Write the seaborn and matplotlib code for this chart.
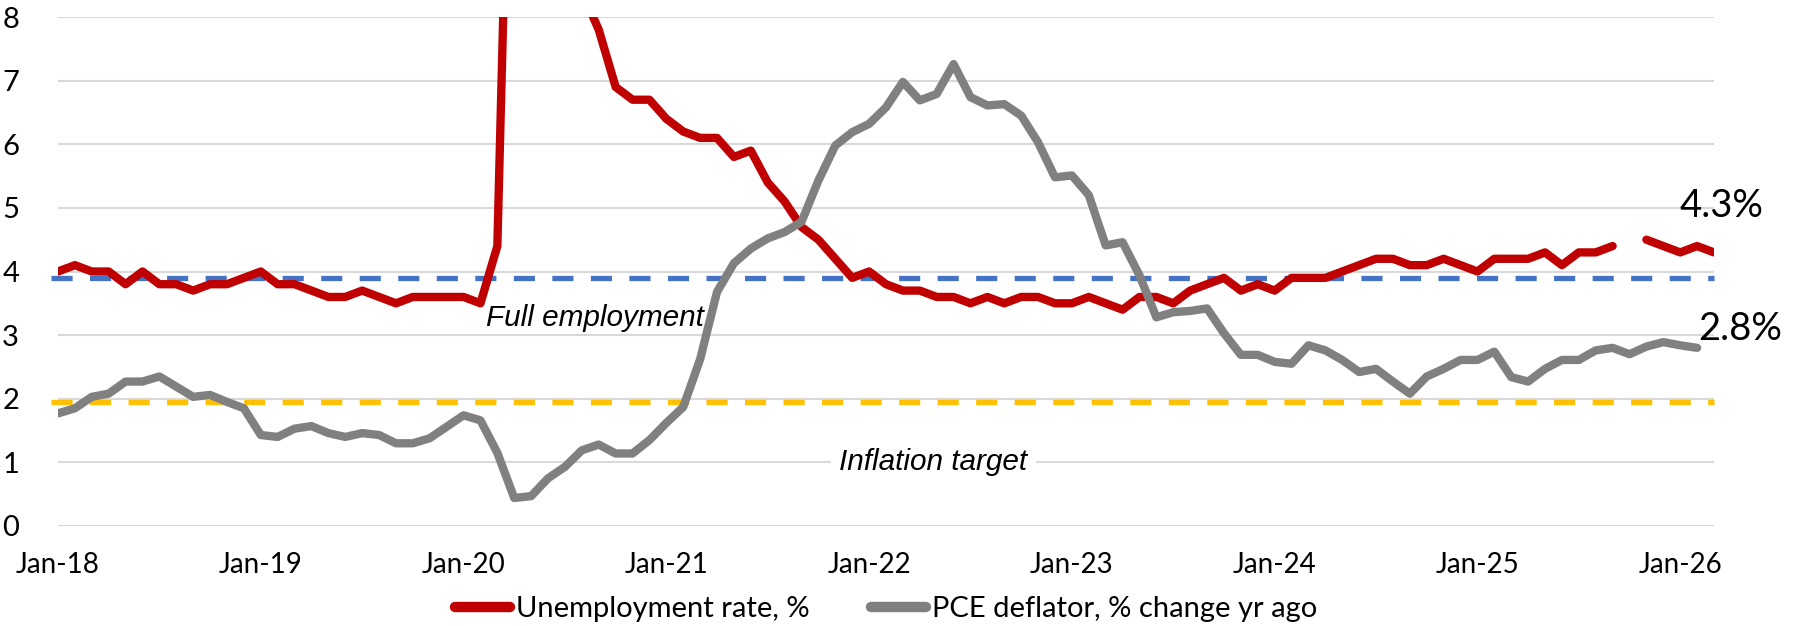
import numpy as np
import pandas as pd
import matplotlib
matplotlib.use("Agg")
import matplotlib.pyplot as plt
from matplotlib.lines import Line2D
import seaborn as sns

# ---------------- data ----------------
tick_labels = ["Jan-18", "Jan-19", "Jan-20", "Jan-21", "Jan-22",
               "Jan-23", "Jan-24", "Jan-25", "Jan-26"]

unemployment = [
    4.0, 4.1, 4.0, 4.0, 3.8, 4.0, 3.8, 3.8, 3.7, 3.8, 3.8, 3.9,   # 2018
    4.0, 3.8, 3.8, 3.7, 3.6, 3.6, 3.7, 3.6, 3.5, 3.6, 3.6, 3.6,   # 2019
    3.6, 3.5, 4.4, 14.8, 13.2, 11.0, 10.2, 8.4, 7.8, 6.9, 6.7, 6.7,  # 2020
    6.4, 6.2, 6.1, 6.1, 5.8, 5.9, 5.4, 5.1, 4.7, 4.5, 4.2, 3.9,   # 2021
    4.0, 3.8, 3.7, 3.7, 3.6, 3.6, 3.5, 3.6, 3.5, 3.6, 3.6, 3.5,   # 2022
    3.5, 3.6, 3.5, 3.4, 3.6, 3.6, 3.5, 3.7, 3.8, 3.9, 3.7, 3.8,   # 2023
    3.7, 3.9, 3.9, 3.9, 4.0, 4.1, 4.2, 4.2, 4.1, 4.1, 4.2, 4.1,   # 2024
    4.0, 4.2, 4.2, 4.2, 4.3, 4.1, 4.3, 4.3, 4.4, np.nan, 4.5, 4.4,  # 2025
    4.3, 4.4, 4.3,                                                # 2026
]

pce_deflator = [
    1.77, 1.85, 2.03, 2.08, 2.27, 2.27, 2.35, 2.19, 2.03, 2.06, 1.95, 1.85,  # 2018
    1.43, 1.40, 1.53, 1.57, 1.46, 1.40, 1.46, 1.43, 1.30, 1.30, 1.38, 1.56,  # 2019
    1.74, 1.66, 1.15, 0.44, 0.47, 0.75, 0.93, 1.19, 1.28, 1.14, 1.14, 1.35,  # 2020
    1.62, 1.87, 2.62, 3.68, 4.13, 4.36, 4.52, 4.62, 4.78, 5.43, 5.98, 6.19,  # 2021
    6.32, 6.58, 6.98, 6.69, 6.79, 7.26, 6.74, 6.61, 6.63, 6.45, 6.03, 5.48,  # 2022
    5.51, 5.20, 4.41, 4.46, 3.94, 3.28, 3.36, 3.38, 3.42, 3.03, 2.69, 2.69,  # 2023
    2.58, 2.55, 2.84, 2.76, 2.61, 2.42, 2.47, 2.27, 2.08, 2.35, 2.47, 2.61,  # 2024
    2.61, 2.74, 2.34, 2.27, 2.47, 2.61, 2.61, 2.76, 2.80, 2.70, 2.82, 2.89,  # 2025
    2.84, 2.80,                                                              # 2026
]

full_employment = 3.9
inflation_target = 1.95

series_names = ["Unemployment rate, %", "PCE deflator, % change yr ago"]
last_labels = ["4.3%", "2.8%"]

# ---------------- build long data ----------------
rows = []
for name, vals in zip(series_names, [unemployment, pce_deflator]):
    seg = 0
    for i, v in enumerate(vals):
        if v is None or (isinstance(v, float) and np.isnan(v)):
            seg += 1
            continue
        rows.append({"idx": i, "value": v, "series": name, "seg": f"{name}-{seg}"})
df = pd.DataFrame(rows)

sns.set_theme(style="white")
plt.rcParams["font.family"] = ["Lato", "DejaVu Sans"]
plt.rcParams["text.color"] = "black"

RED = "#C00000"
GRAY = "#808080"
BLUE = "#4472C4"
YELLOW = "#FFC000"

fig = plt.figure(figsize=(17.96, 6.26), dpi=100)
ax = fig.add_axes([58 / 1796, 1 - 526 / 626, (1714 - 58) / 1796, (526 - 17) / 626])

n_total = len(unemployment)
xlim = (0, n_total - 1)

# grid
for yv in range(0, 9):
    ax.axhline(yv, color="#D9D9D9", lw=1.5, zorder=0)

# reference dashed lines
ax.plot([-0.4, n_total - 1], [full_employment] * 2, color=BLUE, lw=3.8,
        linestyle=(0, (4.0, 3.3)), dash_capstyle="butt", zorder=2, clip_on=False)
ax.plot([-0.4, n_total - 1], [inflation_target] * 2, color=YELLOW, lw=3.8,
        linestyle=(0, (4.0, 3.3)), dash_capstyle="butt", zorder=2, clip_on=False)

sns.lineplot(data=df, x="idx", y="value", hue="series", units="seg",
             estimator=None, palette={series_names[0]: RED, series_names[1]: GRAY},
             linewidth=6.0, ax=ax, legend=False, zorder=3, sort=True)
for ln in ax.get_lines()[-3:]:
    ln.set_solid_joinstyle("round")
    ln.set_solid_capstyle("round")

ax.set_xlim(*xlim)
ax.set_ylim(0, 8)
ax.set_xticks(np.arange(0, 12 * len(tick_labels), 12))
ax.set_xticklabels(tick_labels)
ax.set_yticks(range(0, 9))
ax.set_xlabel("")
ax.set_ylabel("")
ax.tick_params(axis="x", length=0, labelsize=20, pad=19, colors="black")
ax.tick_params(axis="y", length=0, labelsize=21, pad=28, colors="black")
for s in ax.spines.values():
    s.set_visible(False)

# annotations
ax.text(31.8, 3.27, "Full employment", fontsize=21.4, style="italic",
        family="Liberation Sans", ha="center", va="center", zorder=4, color="black")
ax.text(51.8, 1.0, "Inflation target", fontsize=21.4, style="italic",
        family="Liberation Sans", ha="center", va="center", zorder=4, color="black",
        bbox=dict(facecolor="white", edgecolor="none", pad=6))

ax.text(95.95, 5.03, last_labels[0], fontsize=27.5, ha="left", va="center",
        clip_on=False, color="black")
ax.text(97.05, 3.1, last_labels[1], fontsize=27.5, ha="left", va="center",
        clip_on=False, color="black")

handles = [Line2D([], [], color=RED, lw=7.5, solid_capstyle="round"),
           Line2D([], [], color=GRAY, lw=7.5, solid_capstyle="round")]
leg = fig.legend(handles, series_names, loc="center", bbox_to_anchor=(886 / 1796, 1 - 609 / 626),
                 ncol=2, frameon=False, fontsize=21, handlelength=1.9, handletextpad=0.2,
                 columnspacing=2.1)
for t in leg.get_texts():
    t.set_color("black")

fig.savefig("out.png", dpi=100)
